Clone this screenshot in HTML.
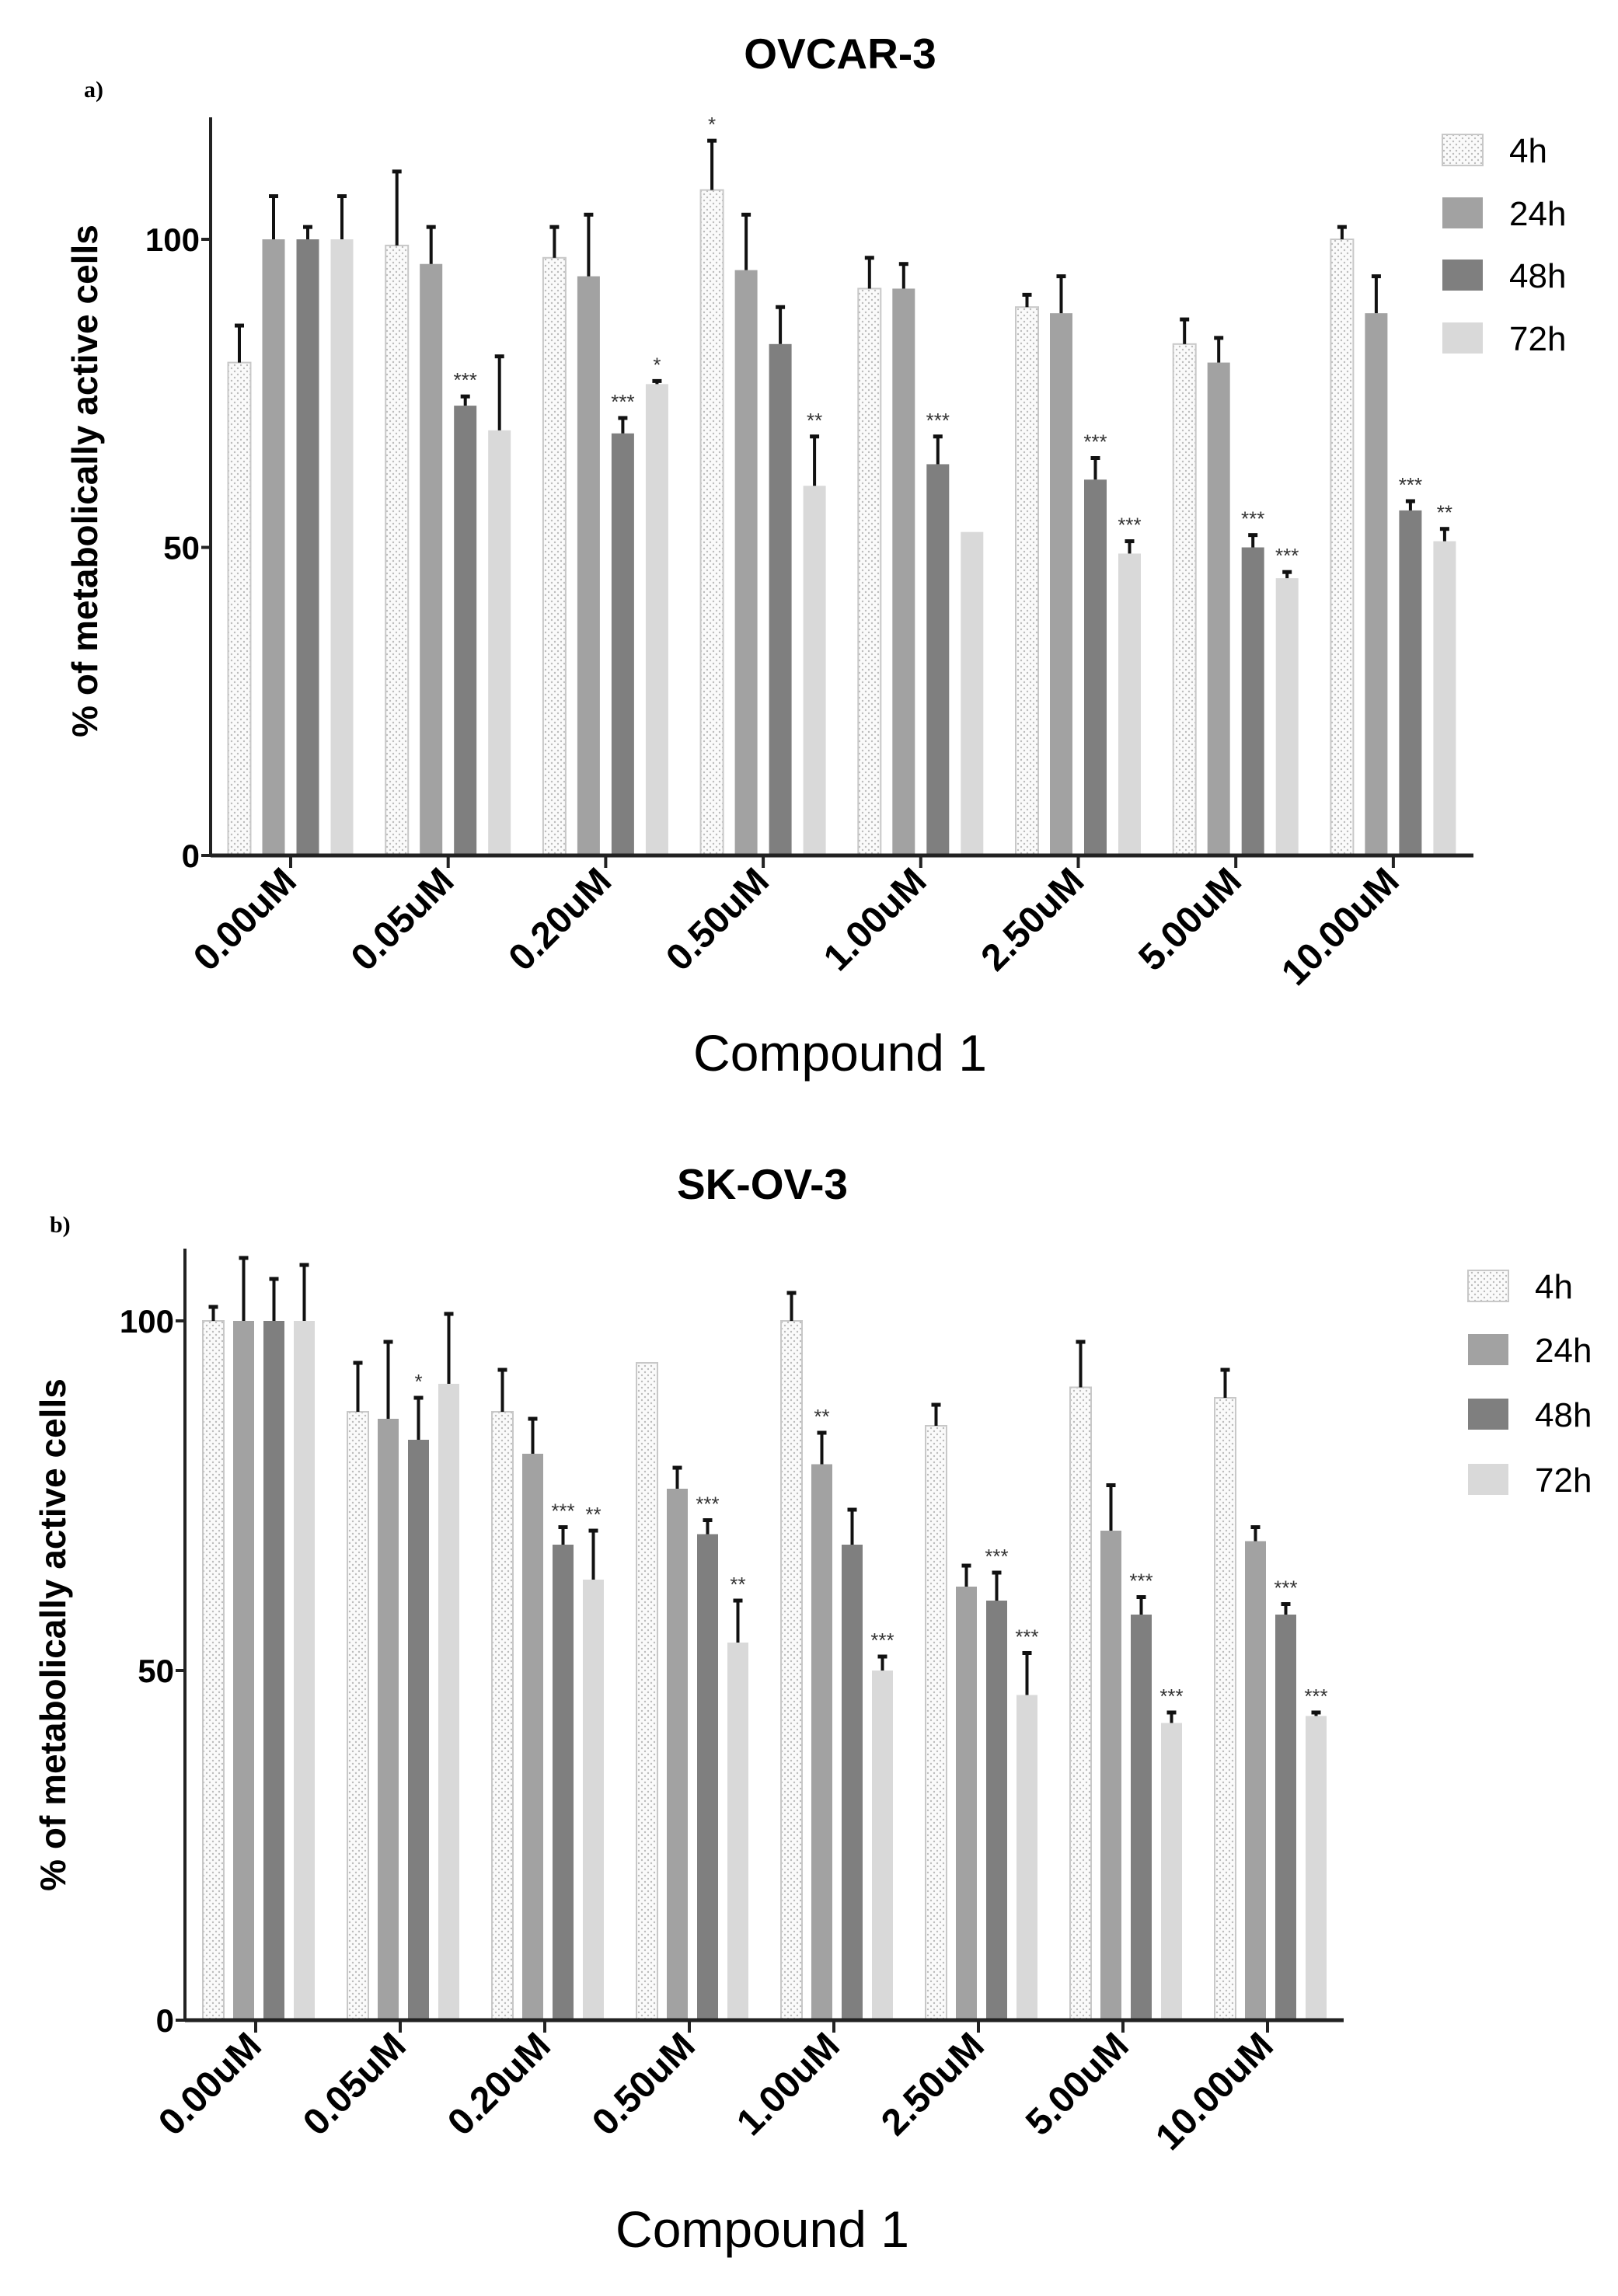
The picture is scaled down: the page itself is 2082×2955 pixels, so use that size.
<!DOCTYPE html>
<html><head><meta charset="utf-8"><style>
body{margin:0;background:#fff;}
svg{display:block;font-family:"Liberation Sans",Arial,sans-serif;}
</style></head><body>
<svg id="c" width="2082" height="2955" viewBox="0 0 2082 2955">
<defs>
<pattern id="dots" width="8" height="8" patternUnits="userSpaceOnUse">
<rect width="8" height="8" fill="#fafafa"/>
<circle cx="2" cy="2" r="1.2" fill="#bbb"/><circle cx="6" cy="6" r="1.2" fill="#bbb"/>
</pattern>
</defs>
</svg>
<script>
const categories=["0.00uM","0.05uM","0.20uM","0.50uM","1.00uM","2.50uM","5.00uM","10.00uM"];
const seriesNames=["4h","24h","48h","72h"];
const yTicks=[0,50,100];
const ovcarMean4h=[80,99,97,108,92,89,83,100];
const ovcarMean24h=[100,96,94,95,92,88,80,88];
const ovcarMean48h=[100,73,68.5,83,63.5,61,50,56];
const ovcarMean72h=[100,69,76.5,60,52.5,49,45,51];
const ovcarErr4h=[86,111,102,116,97,91,87,102];
const ovcarErr24h=[107,102,104,104,96,94,84,94];
const ovcarErr48h=[102,74.5,71,89,68,64.5,52,57.5];
const ovcarErr72h=[107,81,77,68,52.5,51,46,53];
const ovcarSig4h=["","","","*","","","",""];
const ovcarSig24h=["","","","","","","",""];
const ovcarSig48h=["","***","***","","***","***","***","***"];
const ovcarSig72h=["","","*","**","","***","***","**"];
const skovMean4h=[100,87,87,94,100,85,90.5,89];
const skovMean24h=[100,86,81,76,79.5,62,70,68.5];
const skovMean48h=[100,83,68,69.5,68,60,58,58];
const skovMean72h=[100,91,63,54,50,46.5,42.5,43.5];
const skovErr4h=[102,94,93,94,104,88,97,93];
const skovErr24h=[109,97,86,79,84,65,76.5,70.5];
const skovErr48h=[106,89,70.5,71.5,73,64,60.5,59.5];
const skovErr72h=[108,101,70,60,52,52.5,44,44];
const skovSig4h=["","","","","","","",""];
const skovSig24h=["","","","","**","","",""];
const skovSig48h=["","*","***","***","","***","***","***"];
const skovSig72h=["","","**","**","***","***","***","***"];

const svg=document.getElementById('c');
const NS="http://www.w3.org/2000/svg";
function mk(tag,attrs,parent,text){const e=document.createElementNS(NS,tag);for(const k in attrs)e.setAttribute(k,attrs[k]);if(text!==undefined)e.textContent=text;(parent||svg).appendChild(e);return e;}
const fills=["url(#dots)","#a2a2a2","#7f7f7f","#d9d9d9"];
const strokes=["#c8c8c8","none","none","none"];

function panel(p){
  const g=mk('g',{});
  
  
  const y=v=>p.y0-(v/100)*(p.y0-p.y100);
  const x=(i,s)=>p.x0+i*p.step+(s-1.5)*p.bs+p.shift;
  let t=mk('text',{x:p.titleX,y:p.titleY,'font-size':55,'font-weight':'bold','text-anchor':'middle'},g,p.title);
  
  t=mk('text',{x:p.labX,y:p.labY,'font-size':30,'font-family':'Liberation Serif,serif','font-weight':'bold'},g,p.lab);
  
  const means=p.means,errs=p.errs,sigs=p.sigs;
  for(let s=0;s<4;s++){for(let i=0;i<categories.length;i++){
    const cx=x(i,s),top=y(means[s][i]),et=y(errs[s][i]);
    const r=mk('rect',{x:cx-p.bw/2,y:top,width:p.bw,height:p.y0-top,fill:fills[s],stroke:strokes[s],'stroke-width':2},g);
    
    if(errs[s][i]>means[s][i]){
      const l=mk('line',{x1:cx,x2:cx,y1:top,y2:et,stroke:'#111','stroke-width':4},g);
      
      mk('line',{x1:cx-6,x2:cx+6,y1:et,y2:et,stroke:'#111','stroke-width':5},g);
    }
    if(sigs[s][i]){const a=mk('text',{x:cx,y:et-12,'font-size':26,'text-anchor':'middle',fill:'#333'},g,sigs[s][i]);
      }
  }}
  let ax=mk('line',{x1:p.axX,x2:p.axX,y1:p.axTop,y2:p.y0+2,stroke:'#222','stroke-width':4},g);
  
  ax=mk('line',{x1:p.axX,x2:p.axEnd,y1:p.y0,y2:p.y0,stroke:'#222','stroke-width':5},g);
  
  yTicks.forEach(v=>{mk('line',{x1:p.axX-12,x2:p.axX,y1:y(v),y2:y(v),stroke:'#222','stroke-width':4},g);
    const tl=mk('text',{x:p.axX-14,y:y(v)+15,'font-size':42,'font-weight':'bold','text-anchor':'end'},g,v);
    });
  categories.forEach((c,i)=>{const tx=p.x0+i*p.step;
    mk('line',{x1:tx,x2:tx,y1:p.y0,y2:p.y0+16,stroke:'#222','stroke-width':4},g);
    const tl=mk('text',{x:tx+10,y:p.y0+36,'font-size':48,'font-weight':'bold','text-anchor':'end',transform:`rotate(-45 ${tx+10} ${p.y0+36})`},g,c);
    });
  t=mk('text',{x:p.ytX,y:p.ytY,'font-size':46,'font-weight':'bold','text-anchor':'middle',transform:`rotate(-90 ${p.ytX} ${p.ytY})`},g,'% of metabolically active cells');
  
  t=mk('text',{x:p.xtX,y:p.xtY,'font-size':66,'text-anchor':'middle'},g,'Compound 1');
  
  seriesNames.forEach((n,s)=>{const ly=p.legY[s];
    const le=mk('g',{},g);
    mk('rect',{x:p.legX,y:ly-20,width:52,height:40,fill:fills[s],stroke:strokes[s],'stroke-width':2},le);
    mk('text',{x:p.legX+86,y:ly+16,'font-size':44},le,n);});
}
panel({name:'ovcar3-chart',title:'OVCAR-3',titleX:1081,titleY:88,lab:'a)',labX:108,labY:125,
  y0:1101,y100:308,axX:271,axTop:151,axEnd:1896,x0:374,step:202.7,bs:44,bw:29,shift:0,
  means:[ovcarMean4h,ovcarMean24h,ovcarMean48h,ovcarMean72h],errs:[ovcarErr4h,ovcarErr24h,ovcarErr48h,ovcarErr72h],
  sigs:[ovcarSig4h,ovcarSig24h,ovcarSig48h,ovcarSig72h],
  ytX:125,ytY:619,xtX:1081,xtY:1378,legX:1856,legY:[193,274,354,435]});
panel({name:'skov3-chart',title:'SK-OV-3',titleX:981,titleY:1543,lab:'b)',labX:64,labY:1586,
  y0:2600,y100:1700,axX:238,axTop:1607,axEnd:1729,x0:329,step:186,bs:39,bw:27,shift:4,
  means:[skovMean4h,skovMean24h,skovMean48h,skovMean72h],errs:[skovErr4h,skovErr24h,skovErr48h,skovErr72h],
  sigs:[skovSig4h,skovSig24h,skovSig48h,skovSig72h],
  ytX:84,ytY:2104,xtX:981,xtY:2892,legX:1889,legY:[1655,1737,1820,1904]});
</script>
</body></html>
